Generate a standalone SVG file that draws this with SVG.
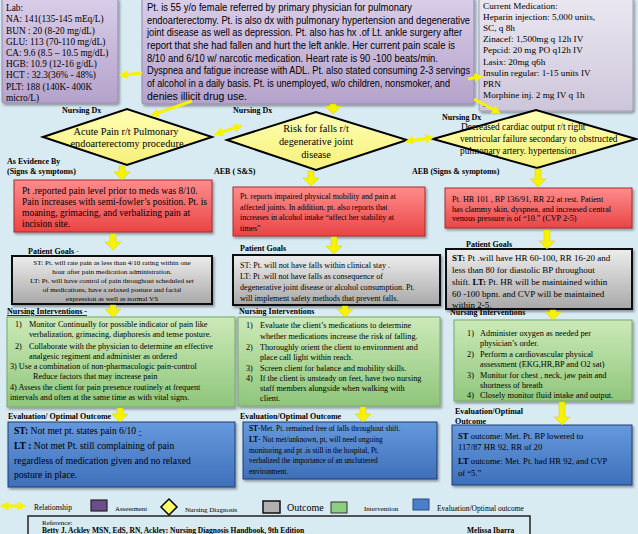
<svg xmlns="http://www.w3.org/2000/svg" width="638" height="534" viewBox="0 0 638 534">
<defs>
<linearGradient id="gPurple" x1="0" y1="0" x2="0" y2="1"><stop offset="0" stop-color="#d9cde8"/><stop offset="1" stop-color="#b5a2cb"/></linearGradient>
<linearGradient id="gMed" x1="0" y1="0" x2="0" y2="1"><stop offset="0" stop-color="#ebe7f1"/><stop offset="1" stop-color="#cdc6da"/></linearGradient>
<linearGradient id="gYel" x1="0" y1="0" x2="0" y2="1"><stop offset="0" stop-color="#ffffb4"/><stop offset="1" stop-color="#f6f07a"/></linearGradient>
<linearGradient id="gRed" x1="0" y1="0" x2="0" y2="1"><stop offset="0" stop-color="#ff8c8c"/><stop offset="1" stop-color="#ea4545"/></linearGradient>
<linearGradient id="gGray" x1="0" y1="0" x2="0" y2="1"><stop offset="0" stop-color="#ededed"/><stop offset="1" stop-color="#a8a8a8"/></linearGradient>
<linearGradient id="gGreen" x1="0" y1="0" x2="0" y2="1"><stop offset="0" stop-color="#cce9b8"/><stop offset="1" stop-color="#8fc67c"/></linearGradient>
<linearGradient id="gBlue" x1="0" y1="0" x2="0" y2="1"><stop offset="0" stop-color="#6699dd"/><stop offset="1" stop-color="#3e70ba"/></linearGradient>
<filter id="sh" x="-10%" y="-10%" width="125%" height="135%"><feDropShadow dx="1.5" dy="2" stdDeviation="1.2" flood-color="#000" flood-opacity="0.35"/></filter>
<marker id="ah" viewBox="0 0 10 10" refX="4" refY="5" markerWidth="3" markerHeight="3" orient="auto-start-reverse"><path d="M0,0 L10,5 L0,10 z" fill="#f6f200"/></marker>
</defs>
<style>
.bg{fill:#d8eaf2}
.t{font-family:"Liberation Serif","Times New Roman",serif;fill:#000}
.s{font-family:"Liberation Sans",Arial,sans-serif;fill:#000}
.lb{font-family:"Liberation Serif","Times New Roman",serif;font-weight:bold;font-size:8px;fill:#000}
.b{font-weight:bold}
.ya{fill:#f6f200;stroke:#d6cf00;stroke-width:0.5}
.yl{stroke:#f6f200;stroke-width:3;fill:none}
.purple{fill:url(#gPurple);stroke:#9888ad;stroke-width:1}
.med{fill:url(#gMed);stroke:#a49cb5;stroke-width:1}
.dia{fill:url(#gYel);stroke:#000;stroke-width:2}
.red{fill:url(#gRed);stroke:#a82a2a;stroke-width:1}
.gray{fill:url(#gGray);stroke:#111;stroke-width:2}
.green{fill:url(#gGreen);stroke:#7aa868;stroke-width:1}
.blue{fill:url(#gBlue);stroke:#1f3d70;stroke-width:1}
</style>
<rect class="bg" x="0" y="0" width="638" height="534"/>

<g id="lab">
<rect class="purple" x="2" y="-2" width="116" height="105" rx="2" filter="url(#sh)"/>
<text class="t" font-size="9.3"><tspan x="6" y="11">Lab:</tspan><tspan x="6" y="22.3">NA: 141(135-145 mEq/L)</tspan><tspan x="6" y="33.5">BUN : 20 (8-20 mg/dL)</tspan><tspan x="6" y="44.7">GLU: 113 (70-110 mg/dL)</tspan><tspan x="6" y="56">CA: 9.6  (8.5 – 10.5 mg/dL)</tspan><tspan x="6" y="67.2">HGB: 10.9 (12-16 g/dL)</tspan><tspan x="6" y="78.4">HCT : 32.3(36% - 48%)</tspan><tspan x="6" y="89.6">PLT: 188 (140K- 400K</tspan><tspan x="6" y="100.8">micro/L)</tspan></text>
</g>

<g id="history">
<rect class="purple" x="142" y="-2" width="332" height="106" rx="2" filter="url(#sh)"/>
<g transform="translate(147,0) scale(0.84,1)">
<text class="s" font-size="10" x="0" y="11" textLength="315.5" lengthAdjust="spacingAndGlyphs">Pt. is 55 y/o female referred by primary physician for pulmonary</text>
<text class="s" font-size="10" x="0" y="23.7" textLength="384.5" lengthAdjust="spacingAndGlyphs">endoarterectomy. Pt. is also dx with pulmonary hypertension and degenerative</text>
<text class="s" font-size="10" x="0" y="36.4" textLength="375" lengthAdjust="spacingAndGlyphs">joint disease as well as depression. Pt. also has hx .of Lt. ankle surgery after</text>
<text class="s" font-size="10" x="0" y="49" textLength="366.7" lengthAdjust="spacingAndGlyphs">report that she had fallen and hurt the left ankle. Her current  pain scale is</text>
<text class="s" font-size="10" x="0" y="61.7" textLength="346.4" lengthAdjust="spacingAndGlyphs">8/10 and 6/10 w/ narcotic medication. Heart rate is 90 -100 beats/min.</text>
<text class="s" font-size="10" x="0" y="74.4" textLength="384.5" lengthAdjust="spacingAndGlyphs">Dyspnea and fatigue increase with ADL. Pt. also stated consuming 2-3 servings</text>
<text class="s" font-size="10" x="0" y="87" textLength="360.7" lengthAdjust="spacingAndGlyphs">of alcohol in a daily basis. Pt. is unemployed, w/o children, nonsmoker, and</text>
<text class="s" font-size="10" x="0" y="99.8" textLength="119" lengthAdjust="spacingAndGlyphs">denies illicit drug use.</text>
</g>
</g>

<g id="medication">
<rect class="med" x="479" y="-2" width="154" height="113" rx="2" filter="url(#sh)"/>
<text class="t" font-size="9.2"><tspan x="483" y="8.5">Current Medication:</tspan><tspan x="483" y="19.7">Heparin injection: 5,000 units,</tspan><tspan x="483" y="30.9">SC, q 8h</tspan><tspan x="483" y="42">Zinacef: 1,500mg q 12h IV</tspan><tspan x="483" y="53.3">Pepcid: 20 mg PO q12h IV</tspan><tspan x="483" y="64.5">Lasix: 20mg q6h</tspan><tspan x="483" y="75.7">Insulin regular: 1-15 units IV</tspan><tspan x="483" y="86.9">PRN</tspan><tspan x="483" y="98">Morphine inj. 2 mg IV q  1h</tspan><tspan x="483" y="109.2">-</tspan></text>
</g>

<g id="dx-pain">
<text class="lb" font-size="7.5" x="62" y="113">Nursing Dx</text>
<polygon class="dia" points="43,137 127,109 212,137 127,165"/>
<text class="t" font-size="10.3" text-anchor="middle"><tspan x="126" y="134.5">Acute Pain r/t  Pulmonary</tspan><tspan x="127" y="147">endoarterectomy procedure</tspan></text>
</g>

<g id="dx-falls">
<text class="lb" font-size="7.5" x="233" y="113">Nursing Dx</text>
<polygon class="dia" points="227,140 316,112 407,140 316,170"/>
<text class="t" font-size="10.3" text-anchor="middle"><tspan x="316" y="132">Risk for falls r/t</tspan><tspan x="316" y="145">degenerative joint</tspan><tspan x="316" y="157.5">disease</tspan></text>
</g>

<g id="dx-cardiac">
<text class="lb" font-size="7.5" x="442" y="120">Nursing Dx</text>
<polygon class="dia" points="433,139 536,110 636,139 537,168"/>
<text class="t" font-size="9.3"><tspan x="461" y="130">Decreased cardiac output r/t right</tspan><tspan x="460" y="142">ventricular failure secondary to obstructed</tspan><tspan x="460" y="154">pulmonary artery. hypertension</tspan></text>
</g>

<g id="aeb-labels">
<text class="lb" x="7" y="164">As Evidence By</text>
<text class="lb" x="7" y="174">(Signs &amp; symptoms)</text>
<text class="lb" x="214" y="174">AEB ( S&amp;S)</text>
<text class="lb" x="412" y="174">AEB (Signs &amp; symptoms)</text>
</g>

<g id="sx-pain">
<rect class="red" x="14" y="180" width="198" height="52" filter="url(#sh)"/>
<text class="t" font-size="9.5"><tspan x="22" y="193.5">Pt .reported pain level prior to meds was 8/10.</tspan><tspan x="22" y="204.5">Pain increases with semi-fowler’s position. Pt. is</tspan><tspan x="22" y="215.5">moaning, grimacing, and verbalizing pain at</tspan><tspan x="22" y="226.5">incision site.</tspan></text>
</g>

<g id="sx-falls">
<rect class="red" x="233" y="187" width="192" height="49" filter="url(#sh)"/>
<text class="t" font-size="7.9"><tspan x="240" y="199">Pt. reports impaired physical mobility  and pain at</tspan><tspan x="240" y="209.5">affected joints. In addition, pt. also reports  that</tspan><tspan x="240" y="220">increases in alcohol intake “affect her stability  at</tspan><tspan x="240" y="230.5">times”</tspan></text>
</g>

<g id="sx-cardiac">
<rect class="red" x="445" y="188" width="187" height="40" filter="url(#sh)"/>
<text class="t" font-size="8.2"><tspan x="452" y="202">Pt. HR 101  , BP 136/91, RR 22  at rest. Patient</tspan><tspan x="452" y="211.5">has clammy skin, dyspnea, and increased central</tspan><tspan x="452" y="221">venous pressure is of “10.” (CVP 2-5)</tspan></text>
</g>

<g id="goal-pain">
<text class="lb" font-size="9" x="28" y="254">Patient Goals <tspan fill="#3355cc" text-decoration="underline" font-weight="normal">-</tspan></text>
<rect class="gray" x="12" y="256" width="200" height="48" filter="url(#sh)"/>
<text class="t" font-size="7.1" text-anchor="middle"><tspan x="112" y="264.5">ST: Pt. will rate pain as less than 4/10 rating  within one</tspan><tspan x="112" y="273.5">hour after pain medication administration.</tspan><tspan x="112" y="282.5">LT: Pt. will have control of pain throughout scheduled set</tspan><tspan x="112" y="291.5">of medications,  have a relaxed posture and facial</tspan><tspan x="112" y="300.5">expression as well as normal VS</tspan></text>
</g>

<g id="goal-falls">
<text class="lb" font-size="9" x="240" y="251">Patient Goals</text>
<rect class="gray" x="233" y="255" width="207" height="50" filter="url(#sh)"/>
<text class="t" font-size="8.1"><tspan x="240" y="268">ST: Pt. will not have falls within clinical stay .</tspan><tspan x="240" y="279">LT: Pt .will not have falls as consequence of</tspan><tspan x="240" y="290">degenerative joint disease or alcohol consumption. Pt.</tspan><tspan x="240" y="300.5">will implement safety methods that prevent falls.</tspan></text>
</g>

<g id="goal-cardiac">
<text class="lb" font-size="9" x="466" y="247">Patient Goals</text>
<rect class="gray" x="446" y="249" width="186" height="60" filter="url(#sh)"/>
<text class="t" font-size="9"><tspan x="452" y="260.5"><tspan class="b">ST:</tspan> Pt .will have HR 60-100, RR 16-20 and</tspan><tspan x="452" y="272.5">less than 80  for diastolic BP throughout</tspan><tspan x="452" y="284.5">shift. <tspan class="b">LT:</tspan> Pt. HR  will be maintained within</tspan><tspan x="452" y="296.5">60 -100 bpm. and CVP will be maintained</tspan><tspan x="452" y="307.5">within 2-5.</tspan></text>
</g>

<g id="int-pain">
<text class="lb" font-size="8.5" x="7" y="314" text-decoration="underline">Nursing Interventions -</text>
<rect class="green" x="7" y="317" width="228" height="90" filter="url(#sh)"/>
<text class="t" font-size="8.2"><tspan x="15" y="327">1)</tspan><tspan x="29" y="327">Monitor Continually for possible indicator of pain like</tspan><tspan x="29" y="337">verbalization, grimacing, diaphoresis and tense posture.</tspan><tspan x="15" y="349">2)</tspan><tspan x="29" y="349">Collaborate with the physician to determine an effective</tspan><tspan x="29" y="358.5">analgesic regiment and administer as ordered</tspan><tspan x="10" y="369">3) Use a combination of non-pharmacologic pain-control</tspan><tspan x="33" y="379">Reduce factors that may increase pain</tspan><tspan x="10" y="390">4)  Assess the client for pain presence routinely at frequent</tspan><tspan x="10" y="400">intervals and often at the same time as with vital signs.</tspan></text>
</g>

<g id="int-falls">
<text class="lb" font-size="8.5" x="239" y="314">Nursing Interventions</text>
<rect class="green" x="238" y="317" width="202" height="89" filter="url(#sh)"/>
<text class="t" font-size="8.2"><tspan x="246" y="328">1)</tspan><tspan x="260" y="328">Evaluate the  client’s medications to determine</tspan><tspan x="260" y="339">whether medications increase the risk of falling.</tspan><tspan x="246" y="350">2)</tspan><tspan x="260" y="350">Thoroughly orient the client to environment and</tspan><tspan x="260" y="360">place call light within reach.</tspan><tspan x="246" y="370.5">3)</tspan><tspan x="260" y="370.5">Screen client for balance and mobility skills.</tspan><tspan x="246" y="380.5">4)</tspan><tspan x="260" y="380.5">If the client is  unsteady on feet, have two nursing</tspan><tspan x="260" y="391">staff members  alongside when walking with</tspan><tspan x="260" y="401">client.</tspan></text>
</g>

<g id="int-cardiac">
<text class="lb" font-size="8.5" x="450" y="315">Nursing Interventions</text>
<rect class="green" x="454" y="320" width="178" height="81" filter="url(#sh)"/>
<text class="t" font-size="8.3"><tspan x="467" y="336">1)</tspan><tspan x="480" y="336">Administer oxygen as needed per</tspan><tspan x="480" y="346">physician’s order.</tspan><tspan x="467" y="357">2)</tspan><tspan x="480" y="357">Perform a cardiovascular physical</tspan><tspan x="480" y="367">assessment (EKG,HR,BP and O2 sat)</tspan><tspan x="467" y="378">3)</tspan><tspan x="480" y="378">Monitor for chest , neck, jaw pain and</tspan><tspan x="480" y="388">shortness of breath</tspan><tspan x="467" y="397.5">4)</tspan><tspan x="480" y="397.5">Closely monitor fluid intake and output.</tspan></text>
</g>

<g id="eval-pain">
<text class="lb" font-size="8.5" x="8" y="419">Evaluation/ Optimal Outcome</text>
<rect class="blue" x="8" y="422" width="227" height="65" filter="url(#sh)"/>
<text class="t" font-size="9.6"><tspan x="14" y="434"><tspan class="b">ST:</tspan> Not met pt. states  pain 6/10 <tspan fill="#2244cc" text-decoration="underline">-</tspan></tspan><tspan x="14" y="449"><tspan class="b">LT :</tspan> Not met Pt. still complaining of pain</tspan><tspan x="14" y="464">regardless of medication given  and no relaxed</tspan><tspan x="14" y="478">posture in place.</tspan></text>
</g>

<g id="eval-falls">
<text class="lb" font-size="8" x="240" y="419">Evaluation/Optimal Outcome</text>
<rect class="blue" x="243" y="422" width="194" height="57" filter="url(#sh)"/>
<text class="t" font-size="7.4"><tspan x="249" y="431"><tspan class="b">ST</tspan>-Met. Pt.  remained free of falls throughout shift.</tspan><tspan x="249" y="442"><tspan class="b">LT</tspan>-  Not met/unknown, pt, will need ongoing</tspan><tspan x="249" y="452.5">monitoring  and pt .is still in the hospital, Pt.</tspan><tspan x="249" y="463">verbalized the importance of an uncluttered</tspan><tspan x="249" y="474">environment.</tspan></text>
</g>

<g id="eval-cardiac">
<text class="lb" font-size="8.3" x="455" y="414">Evaluation/Optimal</text>
<text class="lb" font-size="8.3" x="455" y="424">Outcome</text>
<rect class="blue" x="452" y="425" width="180" height="60" filter="url(#sh)"/>
<text class="t" font-size="8.6"><tspan x="458" y="439"><tspan class="b">ST</tspan> outcome: Met. Pt. BP  lowered to</tspan><tspan x="458" y="450">117/87 HR 92, RR of 20</tspan><tspan x="458" y="464"><tspan class="b">LT</tspan> outcome: Met. Pt. had HR 92, and CVP</tspan><tspan x="458" y="476">of “5.”</tspan></text>
</g>

<g id="connectors">
<line class="yl" x1="142" y1="73" x2="124" y2="75" marker-end="url(#ah)"/>
<line class="yl" x1="192" y1="101" x2="155" y2="114" marker-end="url(#ah)"/>
<line class="yl" x1="468" y1="79" x2="478" y2="77" marker-end="url(#ah)"/>
<line class="yl" x1="474" y1="99" x2="496" y2="111" marker-end="url(#ah)"/>
<line class="yl" x1="219" y1="133" x2="238" y2="127" marker-start="url(#ah)" marker-end="url(#ah)"/>
<line class="yl" x1="410" y1="141" x2="429" y2="138" marker-start="url(#ah)" marker-end="url(#ah)"/>
<path class="ya" d="M330,104 H336 V106 H341 L333,114 L325,106 H330 Z"/>
<path class="ya" d="M119,166 H125 V172 H130 L122,180 L114,172 H119 Z"/>
<path class="ya" d="M308,171 H314 V178 H319 L311,186 L303,178 H308 Z"/>
<path class="ya" d="M535,169 H541 V179 H546 L538,187 L530,179 H535 Z"/>
<path class="ya" d="M110,234 H116 V242 H121 L113,250 L105,242 H110 Z"/>
<path class="ya" d="M331,237 H337 V246 H342 L334,254 L326,246 H331 Z"/>
<path class="ya" d="M544,230 H550 V241 H555 L547,249 L539,241 H544 Z"/>
<path class="ya" d="M110,305 H116 V309 H121 L113,317 L105,309 H110 Z"/>
<path class="ya" d="M342,306 H348 V309 H353 L345,317 L337,309 H342 Z"/>
<path class="ya" d="M550,310 H556 V312 H561 L553,320 L545,312 H550 Z"/>
<path class="ya" d="M117,408 H123 V414 H128 L120,422 L112,414 H117 Z"/>
<path class="ya" d="M360,407 H366 V414 H371 L363,422 L355,414 H360 Z"/>
<path class="ya" d="M559,402 H565 V417 H570 L562,425 L554,417 H559 Z"/>
</g>

<g id="legend">
<line class="yl" x1="5" y1="506" x2="21" y2="506" marker-start="url(#ah)" marker-end="url(#ah)"/>
<text class="t" font-size="7.5" x="34" y="510">Relationship</text>
<rect x="91" y="500" width="16" height="11" fill="#6b4d8c" stroke="#222" stroke-width="1.2"/>
<text class="t" font-size="6.8" x="115" y="511">Assessment</text>
<polygon points="169,499 177,507 169,515 161,507" fill="#ffff66" stroke="#000" stroke-width="1.5"/>
<text class="t" font-size="7" x="185" y="512">Nursing Diagnosis</text>
<rect x="263" y="501" width="17" height="12" fill="#b0b0b0" stroke="#111" stroke-width="1.5"/>
<text class="t" font-size="10" x="287" y="511">Outcome</text>
<rect x="331" y="502" width="16" height="11" fill="#8ccf80" stroke="#333" stroke-width="1"/>
<text class="t" font-size="7" x="364" y="511">Intervention</text>
<rect x="413" y="499" width="16" height="11" fill="#4a7fc9" stroke="#2a4a80" stroke-width="1"/>
<text class="t" font-size="7.5" x="437" y="511">Evaluation/Optimal outcome</text>
</g>

<g id="reference">
<rect x="28" y="516" width="502" height="24" fill="none" stroke="#222" stroke-width="1.5"/>
<text class="t" font-size="7" x="42" y="524.5">Reference:</text>
<text class="t b" font-size="7.5" x="42" y="533">Betty J. Ackley MSN, EdS, RN, Ackley: Nursing Diagnosis Handbook, 9th Edition</text>
<text class="t b" font-size="7.5" x="467" y="533">Melissa Ibarra</text>
</g>
</svg>
